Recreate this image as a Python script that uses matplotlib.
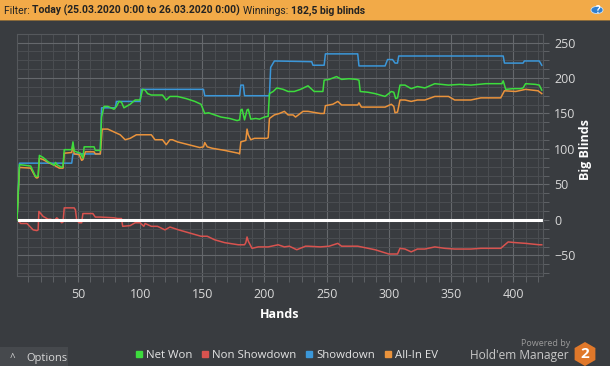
import matplotlib
matplotlib.use('Agg')
import matplotlib.pyplot as plt
from matplotlib.lines import Line2D
from matplotlib.patches import Rectangle, Circle, RegularPolygon
from matplotlib.ticker import MultipleLocator

# ---- data (hand number, big blinds) ----
sd_hands = [1, 3, 45, 46, 68, 69, 80, 81, 100, 101, 151, 152, 180, 181, 183, 184, 204, 205, 208,
            238, 239, 248, 249, 275, 276, 297, 299, 303, 305, 307, 308, 392, 393, 408, 409, 421, 423]
sd_vals = [0, 80, 80, 93, 93, 158, 158, 167, 167, 184, 184, 175, 175, 190, 190, 175, 175, 215, 224,
           223, 218, 218, 234, 234, 217, 217, 226, 226, 221, 221, 231, 231, 221, 221, 224, 224, 218]

nw_hands = [1, 3, 12, 16, 18, 19, 22, 26, 31, 32, 33, 37, 38, 39, 45, 46, 47, 52, 54, 55, 63, 64, 68,
            69, 71, 74, 79, 81, 83, 85, 87, 92, 96, 100, 102, 104, 106, 109, 118, 121, 124, 130, 137,
            144, 149, 152, 155, 160, 165, 172, 178, 180, 181, 182, 184, 186, 187, 189, 193, 196, 200,
            203, 204, 207, 210, 215, 219, 224, 229, 235, 240, 247, 248, 252, 258, 262, 268, 274, 276,
            277, 283, 289, 297, 302, 304, 305.5, 307, 309, 313, 318, 323, 329, 337, 348, 357, 366, 372,
            378, 386, 391, 392, 393, 394, 400, 406, 408, 410, 418, 421, 423]
nw_vals = [0, 78, 76, 61, 62, 91, 88, 82, 77, 81, 78, 74, 76, 99, 99, 110, 97, 94, 87, 103, 103, 98, 98,
           145, 160, 160, 156, 160, 167, 166, 158, 163, 169, 169, 184, 183, 178, 176, 176, 169, 174, 174, 171,
           167, 163, 150, 151, 148, 145, 143, 140, 141, 155, 156, 141, 155, 156, 142, 143, 142, 145,
           146, 178, 181, 186, 184, 181, 181, 184, 189, 181, 181, 197, 198, 202, 198, 199, 198, 197,
           181, 180, 178, 174, 181, 180, 171, 172, 190, 190, 185, 188, 186, 192, 190, 191, 190, 191,
           192, 192, 192, 196, 190, 184, 185, 185, 186, 192, 191, 190, 183]

ev_hands = [1, 3, 12, 16, 17, 18, 19, 22, 26, 31, 35, 38, 39, 45, 46, 47, 51, 53, 54, 56, 63, 64, 68,
            69.5, 74, 79, 84, 88, 92, 97, 104, 109, 112, 118, 121, 124, 126, 130, 139, 148, 151, 152,
            154, 158, 168, 179, 180, 181, 185, 186, 187, 189, 192, 202, 203, 204, 208, 212, 216, 219,
            223, 225, 231, 235, 245, 248, 249, 255, 259, 262, 275, 276, 278, 297, 302, 304, 305, 307,
            309, 313, 318, 323, 329, 337, 348, 353, 366, 374, 390, 393, 402, 410, 420, 423]
ev_vals = [0, 74, 73, 60, 59, 60, 87, 85, 81, 77, 73, 73, 94, 95, 106, 93, 92, 84, 85, 96, 96, 93, 93,
           128, 128, 124, 120, 113, 115, 120, 120, 120, 113, 113, 106, 113, 113, 110, 106, 102, 103, 109,
           103, 101, 98, 94, 93, 110, 112, 128, 120, 113, 115, 115, 116, 143, 148, 150, 153, 148,
           148, 145, 153, 153, 150, 150, 161, 163, 167, 162, 162, 165, 159, 159, 163, 160, 151, 152,
           169, 169, 167, 169, 169, 174, 174, 169, 169, 172, 172, 182, 181, 184, 182, 178]

ns_hands = [1, 4, 9, 14, 17, 18, 18.6, 22, 26, 28, 31, 33, 37, 38, 39, 47, 48, 49, 51, 53, 54, 62, 64,
            68, 79, 82, 85, 86, 92, 96, 100, 103, 104, 109, 114, 120, 124, 131, 139, 149, 154, 160, 168,
            179, 184, 185, 186, 187, 190, 195, 203, 211, 216, 220, 226, 233, 235, 245, 252, 259, 262,
            275, 289, 300, 307, 309, 313, 318, 323, 329, 337, 345, 353, 366, 374, 390, 396, 402, 410,
            421, 423]
ns_vals = [0, -5, -5, -14, -15, -14, 12, 5, 1, 1, -1, 3, -4, -3, 17, 17, 14, 0, -4, -4, 9, 9, 4,
           4, 3, 2, 2, -9, -8, -4, -4, -9, -5, -9, -9, -14, -10, -14, -18, -23, -23, -28, -32,
           -35, -35, -32, -24, -30, -40, -38, -38, -35, -38, -37, -42, -37, -37, -38, -37, -33, -37,
           -37, -42, -48, -48, -40, -41, -45, -41, -41, -38, -40, -41, -41, -40, -40, -31, -32, -33,
           -35, -35]

series_labels = ['Net Won', 'Non Showdown', 'Showdown', 'All-In EV']
series_colors = ['#3ddc3d', '#d9534f', '#3b97d9', '#ea933c']
x_ticks = [50, 100, 150, 200, 250, 300, 350, 400]
y_ticks = [-50, 0, 50, 100, 150, 200, 250]

bg = '#393c40'
txt = '#d8d8d8'
plt.rcParams['font.family'] = ['Open Sans', 'DejaVu Sans']

fig = plt.figure(figsize=(6.1, 3.66), dpi=100, facecolor=bg)
W, H = 610.0, 366.0

ax = fig.add_axes([17 / W, 1 - 276 / H, (543 - 17) / W, (276 - 34) / H], facecolor=bg)

ax.plot(ns_hands, ns_vals, color=series_colors[1], lw=1.1, zorder=2)
ax.axhline(0, color='white', lw=2.2, zorder=2.5)
ax.plot(sd_hands, sd_vals, color=series_colors[2], lw=1.1, zorder=3)
ax.plot(ev_hands, ev_vals, color=series_colors[3], lw=1.1, zorder=3)
ax.plot(nw_hands, nw_vals, color=series_colors[0], lw=1.1, zorder=4)

ax.set_xlim(1, 424)
ax.set_ylim(-79, 262)
ax.set_xticks(x_ticks)
ax.set_yticks(y_ticks)
ax.xaxis.set_minor_locator(MultipleLocator(10))
ax.yaxis.set_minor_locator(MultipleLocator(12.5))
ax.grid(which='major', color='#65686c', lw=0.8)
ax.grid(which='minor', color='#4b4e52', lw=0.7)
ax.set_axisbelow(True)
ax.yaxis.tick_right()
ax.tick_params(which='both', colors='#65686c', labelcolor=txt, labelsize=9, length=4)
ax.tick_params(axis='y', which='major', pad=4)
ax.tick_params(axis='x', which='major', pad=5)
for s in ax.spines.values():
    s.set_color('#55585c')
    s.set_linewidth(0.8)

fig.text(280 / W, 1 - 315 / H, 'Hands', color='white', fontsize=9, fontweight='bold',
         ha='center', va='center')
fig.text(586 / W, 1 - 150 / H, 'Big Blinds', color='white', fontsize=9, fontweight='bold',
         ha='center', va='center', rotation=90)

# top filter banner (zorder below the axes so its annotations stay visible)
fig.patches.append(Rectangle((0, 1 - 20 / H), 1, 20 / H, transform=fig.transFigure,
                             facecolor='#f2aa48', edgecolor='none', zorder=-2))
fig.patches.append(Rectangle((0, 1 - 21 / H), 1, 1 / H, transform=fig.transFigure,
                             facecolor='#8a6a3a', edgecolor='none', zorder=-2))
banner = [('Filter: ', 'normal'), ('Today (25.03.2020 0:00 to 26.03.2020 0:00) ', 'bold'),
          ('Winnings: ', 'normal'), ('182,5 big blinds', 'bold')]
bfam = ['Liberation Sans Narrow', 'Roboto', 'DejaVu Sans']
prev = fig.text(4 / W, 1 - 14.5 / H, banner[0][0], color='#222222', fontsize=7.5,
                fontweight=banner[0][1], family=bfam, va='baseline')
for s, w in banner[1:]:
    prev = ax.annotate(s, xy=(1, 0), xycoords=prev, va='bottom', ha='left', color='#222222',
                       fontsize=7.5, fontweight=w, family=bfam, annotation_clip=False)
fig.patches.append(Circle((597 / W, 1 - 10 / H), 6 / W, transform=fig.transFigure,
                          facecolor='#2f7fd0', edgecolor='#cfe3f7', lw=0.6))
fig.text(597 / W, 1 - 10.5 / H, '?', color='white', fontsize=7, fontweight='bold',
         ha='center', va='center')

# options button
fig.patches.append(Rectangle((0, 0), 68 / W, 19 / H, transform=fig.transFigure,
                             facecolor='#46494d', edgecolor='none'))
fig.text(12 / W, 1 - 358 / H, '^', color=txt, fontsize=7, ha='center', va='center')
fig.text(26 / W, 1 - 358 / H, 'Options', color=txt, fontsize=8, ha='left', va='center')

# legend
handles = [Line2D([], [], marker='s', ls='none', color=c, markersize=4.5) for c in series_colors]
fig.legend(handles, series_labels, loc='center', bbox_to_anchor=(287 / W, 1 - 355 / H), ncol=4,
           frameon=False, handlelength=0.5, handletextpad=0.35, columnspacing=0.9,
           fontsize=8.2, labelcolor='#e4e4e4')

# powered by
fig.text(546 / W, 1 - 344 / H, 'Powered by', color='#9a9a9a', fontsize=6.5, ha='center', va='center')
fig.text(569 / W, 1 - 356 / H, "Hold'em Manager", color='#c8c8c8', fontsize=8.6, ha='right', va='center')
logo = fig.add_axes([572 / W, 0, 28 / W, 26 / H])
logo.set_xlim(0, 28)
logo.set_ylim(0, 26)
logo.axis('off')
logo.add_patch(RegularPolygon((13, 12), 6, radius=12, facecolor='#e0782a', edgecolor='none'))
logo.text(13, 12, '2', color='white', fontsize=11, fontweight='bold', ha='center', va='center')

fig.savefig('out.png', dpi=100, facecolor=bg)
